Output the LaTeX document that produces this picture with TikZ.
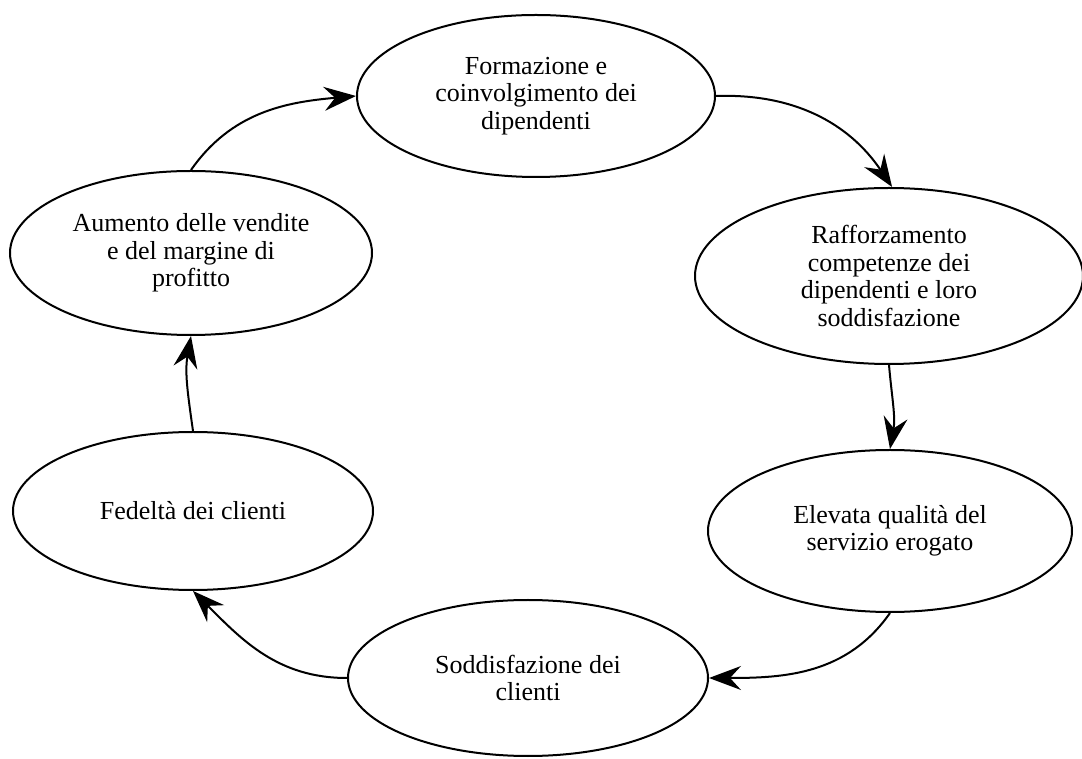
\documentclass[tikz,border=0pt]{standalone}
\usepackage{fontspec}
\setmainfont{Liberation Serif}
\usetikzlibrary{shapes.geometric,arrows.meta}
\begin{document}
\begin{tikzpicture}[x=1pt,y=1pt,
  bubble/.style={draw, ellipse, line width=2pt, inner sep=0pt, align=center,
    font=\fontsize{26}{27.5}\selectfont},
  conn/.style={line width=2pt, -{Stealth[length=32pt,width=24pt,inset=11pt]}}]
\useasboundingbox (0,0) rectangle (1082,758);
\node[bubble, minimum width=358pt, minimum height=162pt] (e1) at (536,662)
  {Formazione e\\coinvolgimento dei\\dipendenti};
\node[bubble, minimum width=388pt, minimum height=176pt] (e2) at (889,482)
  {Rafforzamento\\competenze dei\\dipendenti e loro\\soddisfazione};
\node[bubble, minimum width=364pt, minimum height=162pt] (e3) at (890,227)
  {Elevata qualità del\\servizio erogato};
\node[bubble, minimum width=360pt, minimum height=156pt] (e4) at (528,80)
  {Soddisfazione dei\\clienti};
\node[bubble, minimum width=360pt, minimum height=158pt] (e5) at (193,247)
  {Fedeltà dei clienti};
\node[bubble, minimum width=362pt, minimum height=164pt] (e6) at (191,505)
  {Aumento delle vendite\\e del margine di\\profitto};
\draw[conn] (e1.east) to[out=2, in=124] (e2.88);
\draw[conn] (e2.south) to[out=-85, in=80] (e3.north);
\draw[conn] (e3.south) to[out=-125, in=0] (e4.east);
\draw[conn] (e4.west) to[out=180, in=-45] (e5.south);
\draw[conn] (e5.north) to[out=98, in=-100] (e6.south);
\draw[conn] (e6.north) to[out=55, in=185] (e1.west);
\end{tikzpicture}
\end{document}
